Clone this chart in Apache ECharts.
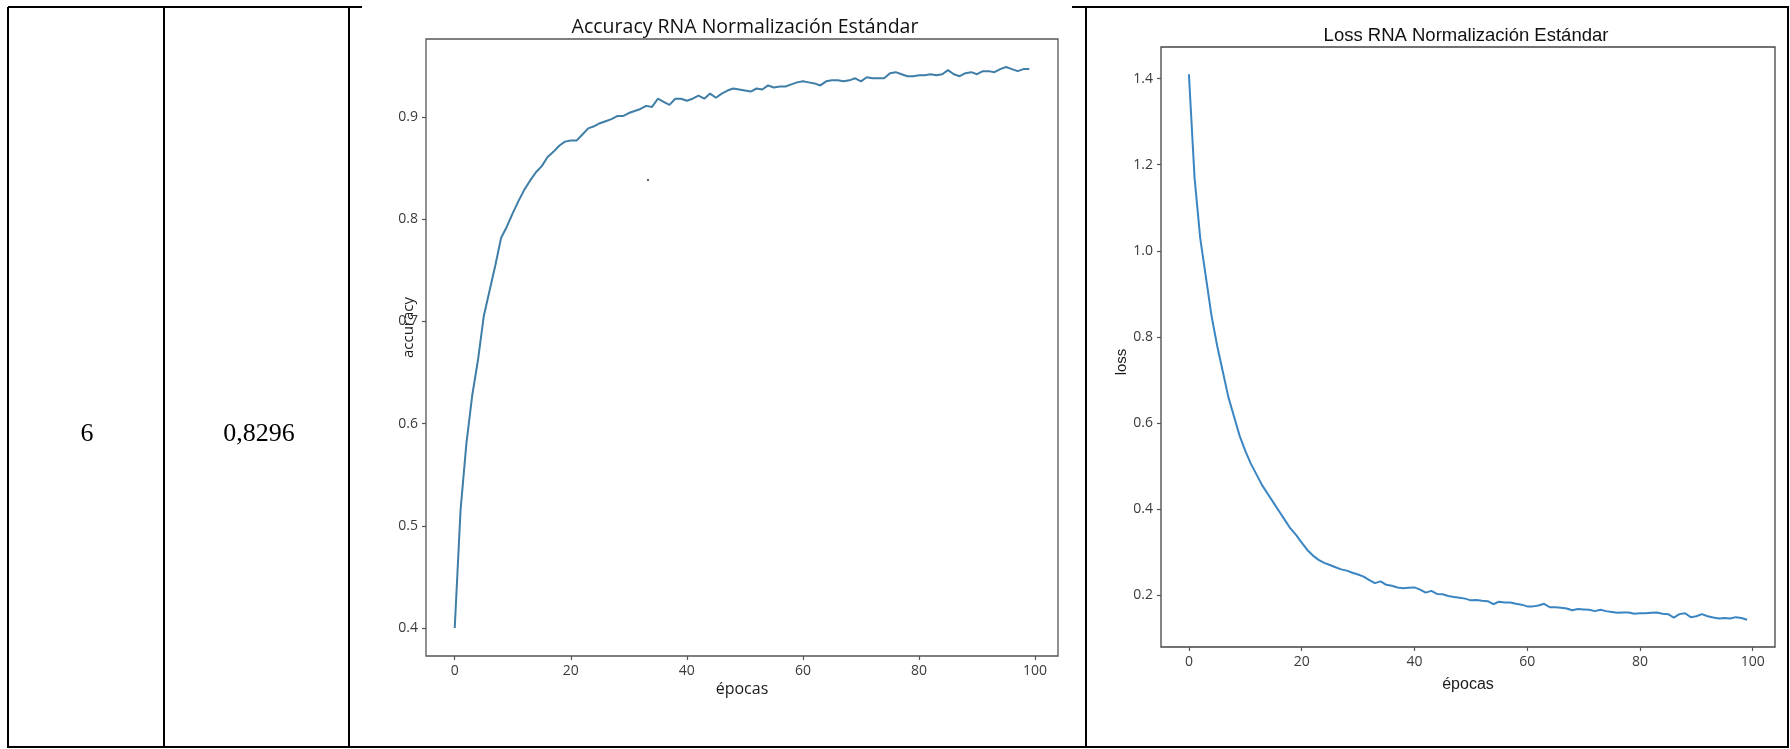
<!DOCTYPE html>
<html>
<head>
<meta charset="utf-8">
<script src="https://cdn.jsdelivr.net/npm/echarts@6/dist/echarts.min.js"></script>
<style>
  html, body { margin: 0; padding: 0; background: #ffffff; }
  #chart { width: 1790px; height: 749px; }
</style>
</head>
<body>
<div id="chart"></div>
<script>
// Training history of the neural network (standard normalisation), one value per epoch
const accuracy = [
  0.400, 0.515, 0.580, 0.627, 0.662, 0.705, 0.730, 0.755, 0.782, 0.793,
  0.806, 0.818, 0.829, 0.838, 0.846, 0.852, 0.861, 0.866, 0.872, 0.876,
  0.877, 0.877, 0.883, 0.889, 0.891, 0.894, 0.896, 0.898, 0.901, 0.901,
  0.904, 0.906, 0.908, 0.911, 0.910, 0.918, 0.915, 0.912, 0.918, 0.918,
  0.916, 0.918, 0.921, 0.918, 0.923, 0.919, 0.923, 0.926, 0.928, 0.927,
  0.926, 0.925, 0.928, 0.927, 0.931, 0.929, 0.930, 0.930, 0.932, 0.934,
  0.935, 0.934, 0.933, 0.931, 0.935, 0.936, 0.936, 0.935, 0.936, 0.938,
  0.935, 0.939, 0.938, 0.938, 0.938, 0.943, 0.944, 0.942, 0.940, 0.940,
  0.941, 0.941, 0.942, 0.941, 0.942, 0.946, 0.942, 0.940, 0.943, 0.944,
  0.942, 0.945, 0.945, 0.944, 0.947, 0.949, 0.947, 0.945, 0.947, 0.947
];

const loss = [
  1.410, 1.170, 1.030, 0.940, 0.850, 0.780, 0.720, 0.660, 0.615, 0.570,
  0.535, 0.505, 0.480, 0.455, 0.435, 0.415, 0.395, 0.375, 0.355, 0.340,
  0.322, 0.305, 0.292, 0.282, 0.275, 0.270, 0.265, 0.260, 0.257, 0.252,
  0.248, 0.243, 0.235, 0.228, 0.232, 0.224, 0.222, 0.218, 0.216, 0.217,
  0.218, 0.213, 0.206, 0.210, 0.203, 0.202, 0.198, 0.196, 0.194, 0.192,
  0.188, 0.189, 0.187, 0.186, 0.179, 0.185, 0.183, 0.183, 0.180, 0.178,
  0.174, 0.174, 0.176, 0.180, 0.172, 0.172, 0.171, 0.169, 0.165, 0.168,
  0.167, 0.166, 0.163, 0.166, 0.163, 0.161, 0.159, 0.160, 0.160, 0.157,
  0.158, 0.158, 0.159, 0.160, 0.157, 0.156, 0.148, 0.156, 0.158, 0.149,
  0.151, 0.156, 0.151, 0.148, 0.146, 0.147, 0.146, 0.149, 0.147, 0.143
];

const epochTicks = [0, 20, 40, 60, 80, 100];
const accuracyTicks = [0.4, 0.5, 0.6, 0.7, 0.8, 0.9];
const lossTicks = [0.2, 0.4, 0.6, 0.8, 1.0, 1.2, 1.4];

// Table cell contents
const rowNumber = '6';
const rowScore = '0,8296';
const accuracyTitle = 'Accuracy RNA Normalización Estándar';
const lossTitle = 'Loss RNA Normalización Estándar';

// matplotlib-like axis limits: data range padded by 5 % on each side
function padded(values) {
  const lo = Math.min(...values), hi = Math.max(...values);
  const m = (hi - lo) * 0.05;
  return [lo - m, hi + m];
}
const epochRange = padded([0, accuracy.length - 1]);
const accRange = padded(accuracy);
const lossRange = padded(loss);

const toPairs = arr => arr.map((v, i) => [i, v]);

const SEGOE = '"Open Sans", "DejaVu Sans", sans-serif';
const ARIAL = '"Liberation Sans", Arial, sans-serif';

function xAxisFor(gridIndex, nameGap, nameFont) {
  return {
    type: 'value', gridIndex,
    min: epochRange[0], max: epochRange[1],
    name: 'épocas', nameLocation: 'middle', nameGap, nameMoveOverlap: false,
    nameTextStyle: { fontFamily: nameFont, fontSize: 16, color: '#1a1a1a' },
    axisLine: { show: false, onZero: false },
    splitLine: { show: false },
    axisTick: { show: true, customValues: epochTicks, length: 4, lineStyle: { color: '#555', width: 1.2 } },
    axisLabel: { customValues: epochTicks, margin: 8, fontFamily: SEGOE, fontSize: 14, color: '#3a3a3a' }
  };
}

function yAxisFor(gridIndex, range, ticks, name, nameGap, nameFont, namePad) {
  return {
    type: 'value', gridIndex,
    min: range[0], max: range[1],
    name, nameLocation: 'middle', nameGap, nameRotate: 90, nameMoveOverlap: false,
    nameTextStyle: { fontFamily: nameFont, fontSize: 15, color: '#1a1a1a', padding: namePad },
    axisLine: { show: false, onZero: false },
    splitLine: { show: false },
    axisTick: { show: true, customValues: ticks, length: 4, lineStyle: { color: '#555', width: 1.2 } },
    axisLabel: {
      customValues: ticks, margin: 8, fontFamily: SEGOE, fontSize: 14, color: '#3a3a3a',
      formatter: v => v.toFixed(1)
    }
  };
}

const line = (color, extra) => ({ color, width: 2, ...extra });

// Table rules (cell borders)
const tableLines = [
  [8, 7, 362, 7], [1072, 7, 1789, 7],
  [8, 747, 1789, 747],
  [8, 7, 8, 748], [164, 7, 164, 748], [349, 7, 349, 748],
  [1086, 7, 1086, 748], [1788, 7, 1788, 748]
].map(([x1, y1, x2, y2]) => ({
  type: 'line', silent: true, z: 10,
  shape: { x1, y1, x2, y2 },
  style: { stroke: '#000', lineWidth: 2 }
}));

const chart = echarts.init(document.getElementById('chart'), null, { renderer: 'canvas' });
chart.setOption({
  animation: false,
  backgroundColor: '#ffffff',
  title: [
    { text: accuracyTitle, left: 740, top: 12, textAlign: 'center',
      textStyle: { fontFamily: SEGOE, fontWeight: 'normal', fontSize: 19.5, color: '#111' } },
    { text: lossTitle, left: 1461, top: 21, textAlign: 'center',
      textStyle: { fontFamily: ARIAL, fontWeight: 'normal', fontSize: 18.5, color: '#111' } }
  ],
  grid: [
    { left: 426, top: 39, width: 632, height: 617, show: true,
      borderColor: '#555', borderWidth: 1.3, backgroundColor: 'transparent' },
    { left: 1161, top: 47, width: 614, height: 600, show: true,
      borderColor: '#444', borderWidth: 1.3, backgroundColor: 'transparent' }
  ],
  xAxis: [
    xAxisFor(0, 25, SEGOE),
    xAxisFor(1, 30, ARIAL)
  ],
  yAxis: [
    yAxisFor(0, accRange, accuracyTicks, 'accuracy', 10, SEGOE, [0, 0, 0, 40]),
    yAxisFor(1, lossRange, lossTicks, 'loss', 32, ARIAL, [0, 30, 0, 0])
  ],
  series: [
    { type: 'line', xAxisIndex: 0, yAxisIndex: 0, data: toPairs(accuracy),
      showSymbol: false, lineStyle: line('#3f7ea6'), itemStyle: { color: '#3f7ea6' } },
    { type: 'line', xAxisIndex: 1, yAxisIndex: 1, data: toPairs(loss),
      showSymbol: false, lineStyle: line('#3a85c2'), itemStyle: { color: '#3a85c2' } }
  ],
  graphic: [
    ...tableLines,
    { type: 'text', z: 10, x: 87, y: 434,
      style: { text: rowNumber, fontFamily: '"Liberation Serif", "Times New Roman", serif',
               fontSize: 26, fill: '#000', align: 'center', verticalAlign: 'middle' } },
    { type: 'text', z: 10, x: 259, y: 434,
      style: { text: rowScore, fontFamily: '"Liberation Serif", "Times New Roman", serif',
               fontSize: 26, fill: '#000', align: 'center', verticalAlign: 'middle' } },
    { type: 'circle', z: 10, shape: { cx: 648, cy: 180, r: 1 }, style: { fill: '#333' } }
  ]
});
</script>
</body>
</html>
